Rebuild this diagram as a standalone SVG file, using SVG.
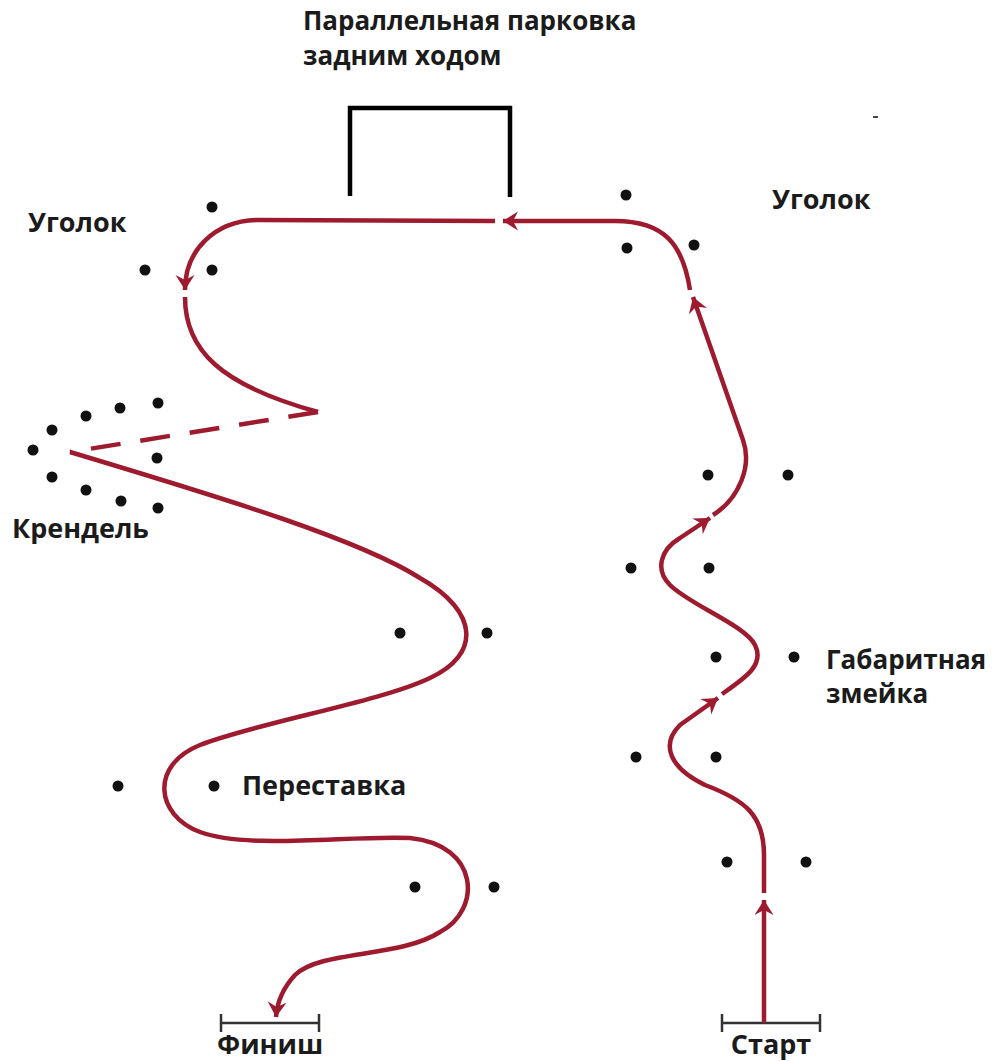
<svg xmlns="http://www.w3.org/2000/svg" width="994" height="1061" viewBox="0 0 994 1061">
<style>
.lbl{font-family:"Open Sans","Liberation Sans",sans-serif;font-weight:700;font-size:27px;fill:#1b1b1b}
.sm{font-size:26px}
.route{fill:none;stroke:#9e1a2f;stroke-width:4.5;stroke-linecap:butt;stroke-linejoin:round}
.dash{stroke-dasharray:30 20}
.dot{fill:#111}
.bar{fill:none;stroke:#333;stroke-width:2.5}
</style>
<defs>
<marker id="arr" viewBox="-18 -11 20 22" refX="0" refY="0" markerWidth="20" markerHeight="22" markerUnits="userSpaceOnUse" orient="auto">
<path d="M0,0 L-15,-9.5 L-10,0 L-15,9.5 Z" fill="#9e1a2f"/>
</marker>
</defs>
<rect width="994" height="1061" fill="#fff"/>
<g id="parking">
<path d="M350,196 V108 H510 V197" fill="none" stroke="#000" stroke-width="4.5"/>
<text class="lbl sm" x="303" y="30">Параллельная парковка</text>
<text class="lbl sm" x="303" y="65">задним ходом</text>
</g>
<g id="corner-left">
<circle class="dot" cx="212" cy="207" r="5.5"/>
<circle class="dot" cx="145" cy="270" r="5.5"/>
<circle class="dot" cx="212" cy="270" r="5.5"/>
<text class="lbl" x="28" y="232">Уголок</text>
</g>
<g id="corner-right">
<circle class="dot" cx="626" cy="195" r="5.5"/>
<circle class="dot" cx="627" cy="248" r="5.5"/>
<circle class="dot" cx="694" cy="245" r="5.5"/>
<text class="lbl" x="772" y="209">Уголок</text>
</g>
<g id="pretzel">
<circle class="dot" cx="33" cy="450" r="5.5"/>
<circle class="dot" cx="52" cy="430" r="5.5"/>
<circle class="dot" cx="86" cy="416" r="5.5"/>
<circle class="dot" cx="120" cy="408" r="5.5"/>
<circle class="dot" cx="158" cy="403" r="5.5"/>
<circle class="dot" cx="157" cy="458" r="5.5"/>
<circle class="dot" cx="52" cy="477" r="5.5"/>
<circle class="dot" cx="86" cy="490" r="5.5"/>
<circle class="dot" cx="121" cy="501" r="5.5"/>
<circle class="dot" cx="158" cy="508" r="5.5"/>
<text class="lbl" x="12" y="538">Крендель</text>
</g>
<g id="swap">
<circle class="dot" cx="400" cy="633" r="5.5"/>
<circle class="dot" cx="487" cy="633" r="5.5"/>
<circle class="dot" cx="118" cy="786" r="5.5"/>
<circle class="dot" cx="214" cy="786" r="5.5"/>
<circle class="dot" cx="415" cy="887" r="5.5"/>
<circle class="dot" cx="494" cy="887" r="5.5"/>
<text class="lbl" x="242" y="795">Переставка</text>
</g>
<g id="snake">
<circle class="dot" cx="708" cy="475" r="5.5"/>
<circle class="dot" cx="788" cy="475" r="5.5"/>
<circle class="dot" cx="631" cy="568" r="5.5"/>
<circle class="dot" cx="709" cy="568" r="5.5"/>
<circle class="dot" cx="716" cy="657" r="5.5"/>
<circle class="dot" cx="794" cy="657" r="5.5"/>
<circle class="dot" cx="636" cy="757" r="5.5"/>
<circle class="dot" cx="716" cy="757" r="5.5"/>
<circle class="dot" cx="727" cy="862" r="5.5"/>
<circle class="dot" cx="806" cy="862" r="5.5"/>
<text class="lbl sm" x="826" y="669">Габаритная</text>
<text class="lbl sm" x="826" y="703">змейка</text>
</g>
<g id="start">
<path class="bar" d="M722,1023 H820 M722,1014 V1032 M820,1014 V1032"/>
<text class="lbl" x="771" y="1054" text-anchor="middle">Старт</text>
</g>
<g id="finish">
<path class="bar" d="M221,1023 H319 M221,1014 V1032 M319,1014 V1032"/>
<text class="lbl" x="270" y="1054" text-anchor="middle">Финиш</text>
</g>
<rect x="873" y="116" width="5" height="2" fill="#444"/>
<g id="connectors">
<path class="route" marker-end="url(#arr)" d="M764,1023 L764,900"/>
<path class="route" marker-end="url(#arr)" d="M764,893 L764,855 C764,815 745,800 705,785 C670,768 660,745 680,725 L718,698"/>
<path class="route" marker-end="url(#arr)" d="M722,694 C745,678 765,665 755,645 C745,625 690,605 670,585 C655,570 660,550 680,538 L710,518"/>
<path class="route" marker-end="url(#arr)" d="M713,515 C740,498 752,465 743,440 L693,297"/>
<path class="route" marker-end="url(#arr)" d="M690,290 C683,245 665,221 615,221 L503,221"/>
<path class="route" marker-end="url(#arr)" d="M495,221 L257,220 C215,221 185,250 185,290"/>
<path class="route" d="M185,297 C185,350 220,385 318,412"/>
<path class="route dash" d="M318,412 L70,452"/>
<path class="route" marker-end="url(#arr)" d="M70,452 C230,500 360,540 420,578 C480,612 480,655 430,678 C380,702 260,722 200,745 C150,765 155,815 200,832 C250,850 350,835 410,838 C480,845 482,910 440,932 C400,958 320,950 295,975 C283,988 277,1003 276,1017"/>
</g>
</svg>
